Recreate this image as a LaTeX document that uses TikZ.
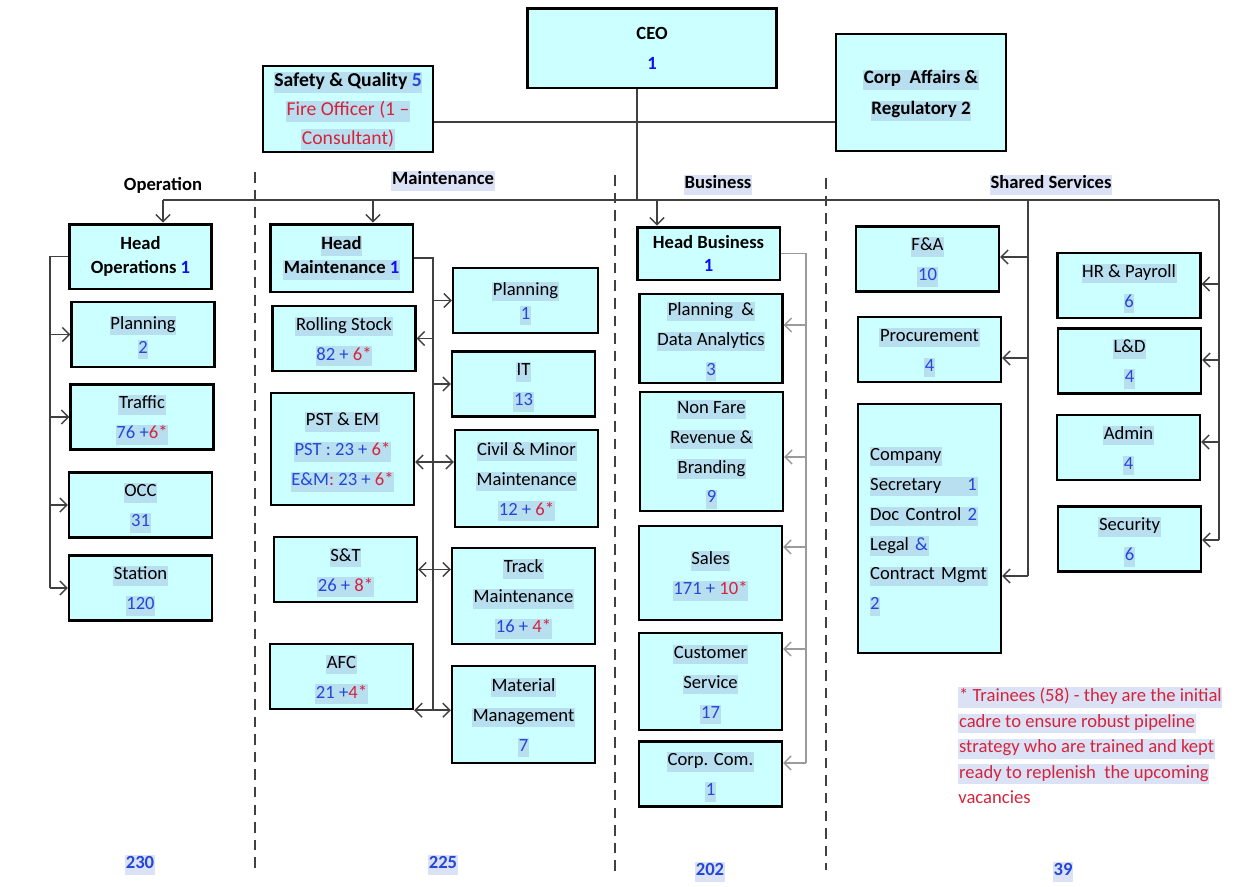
\documentclass[tikz,border=0pt]{standalone}
\usepackage{fontspec}
\setmainfont{Carlito}
\usepackage{xcolor}
\usepackage{tikz}
\usetikzlibrary{arrows.meta}
\definecolor{boxcyan}{HTML}{CCFFFF}
\definecolor{hlcyan}{HTML}{B8DFF0}
\definecolor{hlpage}{HTML}{DCE2F5}
\definecolor{numblue}{HTML}{2447D8}
\definecolor{headblue}{HTML}{1010F0}
\definecolor{numred}{HTML}{D3243C}
\definecolor{linegray}{HTML}{404040}
\definecolor{lightline}{HTML}{9A9A9A}
\newcommand{\hlb}[1]{{\setlength{\fboxsep}{0.4pt}\colorbox{hlcyan}{\rule[-3pt]{0pt}{10.2pt}#1}}}
\newcommand{\hlw}[1]{{\setlength{\fboxsep}{0.4pt}\colorbox{hlpage}{\rule[-3pt]{0pt}{10.2pt}#1}}}
\newcommand{\hlt}[1]{\rule{0pt}{11pt}\hlb{#1}}
\newcommand{\numb}[1]{\textcolor{numblue}{#1}}
\newcommand{\numr}[1]{\textcolor{numred}{#1}}

\begin{document}
\begin{tikzpicture}[x=0.02cm,y=-0.02cm,
  unit/.style={draw,line width=1.3pt,fill=boxcyan,align=center,inner sep=1pt,
               minimum width=2.86cm,minimum height=1.3cm,
               font=\fontsize{10.6}{17}\selectfont},
  tight/.style={font=\fontsize{10.6}{13.6}\selectfont},
  head/.style={unit,line width=1.7pt,font=\bfseries\fontsize{10.6}{13.6}\selectfont},
  link/.style={draw=linegray,line width=0.8pt},
  divider/.style={draw=linegray,line width=0.8pt,dash pattern=on 6pt off 4pt},
  sect/.style={font=\bfseries\fontsize{10.6}{12}\selectfont},
  total/.style={font=\bfseries\fontsize{10.6}{12}\selectfont,text=numblue},
  >={Straight Barb[length=4pt,width=8pt]},
]
  \useasboundingbox (0,0) rectangle (1256,886);

  \node[head,minimum width=5cm,minimum height=1.6cm,
        font=\bfseries\fontsize{10.6}{17}\selectfont] (ceo) at (652,48) {CEO\\\textcolor{headblue}{1}};
  \node[unit,minimum width=3.4cm,minimum height=1.72cm,font=\fontsize{11.2}{16.4}\selectfont]
       (safety) at (348,109) {\hlt{\textbf{Safety \& Quality \numb{5}}}\\\hlb{\numr{Fire Officer (1 –}}\\\hlb{\numr{Consultant)}}};
  \node[unit,minimum width=3.4cm,minimum height=2.34cm,
        font=\bfseries\fontsize{10.8}{17.5}\selectfont] (corp) at (921,92.5) {\hlt{Corp\ \ Affairs \&}\\\hlb{Regulatory 2}};

  \node[sect] (lblops) at (163,185) {Operation};
  \node[sect] (lblmnt) at (443,181) {\hlw{Maintenance}};
  \node[sect] (lblbus) at (718,185) {\hlw{Business}};
  \node[sect] (lblss) at (1051,185) {\hlw{Shared Services}};

  \draw[divider] (255,172) -- (255,868);
  \draw[divider] (615,175) -- (615,875);
  \draw[divider] (826,178) -- (826,870);

  \node[head] (hops) at (140.5,256.5) {Head\\Operations \textcolor{headblue}{1}};
  \node[unit,tight] (oplan) at (143,334.5) {\hlt{Planning}\\\hlb{\numb{2}}};
  \node[unit] (traffic) at (142,417) {\hlt{Traffic}\\\hlb{\numb{76 +}\numr{6*}}};
  \node[unit] (occ) at (140.5,505) {\hlt{OCC}\\\hlb{\numb{31}}};
  \node[unit] (station) at (140.5,588) {\hlt{Station}\\\hlb{\numb{120}}};

  \node[head,minimum height=1.36cm] (hmaint) at (341.5,258) {\hlb{Head}\\\hlb{Maintenance \textcolor{headblue}{1}}};
  \node[unit] (rstock) at (344,338.5) {\hlt{Rolling Stock}\\\hlb{\numb{82 +} \numr{6*}}};
  \node[unit,minimum height=2.24cm] (pstem) at (342.5,449) {\hlt{PST \& EM}\\\hlb{\numb{PST : 23 +} \numr{6*}}\\\hlb{\numb{E\&M}\numr{:} \numb{23 +} \numr{6*}}};
  \node[unit] (snt) at (345.5,569.5) {\hlt{S\&T}\\\hlb{\numb{26 +} \numr{8*}}};
  \node[unit] (afc) at (341.5,676.5) {\hlt{AFC}\\\hlb{\numb{21 +}\numr{4*}}};

  \node[unit,tight,minimum width=2.9cm] (mplan) at (525.5,300.5) {\hlt{Planning}\\\hlb{\numb{1}}};
  \node[unit] (it) at (523.5,384) {\hlt{IT}\\\hlb{\numb{13}}};
  \node[unit,minimum height=1.94cm] (civil) at (526.5,478.5) {\hlt{Civil \& Minor}\\\hlb{Maintenance}\\\hlb{\numb{12 +} \numr{6*}}};
  \node[unit,minimum height=1.92cm] (track) at (523.5,596) {\hlt{Track}\\\hlb{Maintenance}\\\hlb{\numb{16 +} \numr{4*}}};
  \node[unit,minimum height=1.94cm] (material) at (523.5,714.5) {\hlt{Material}\\\hlb{Management}\\\hlb{\numb{7}}};

  \node[head,minimum height=1.06cm] (hbus) at (708.5,253.5) {Head Business\\\textcolor{headblue}{1}};
  \node[unit,minimum height=1.74cm] (pda) at (711,338.5) {\hlt{Planning\ \ \&}\\\hlb{Data Analytics}\\\hlb{\numb{3}}};
  \node[unit,minimum height=2.14cm] (nfr) at (711.5,451.5) {\hlt{Non Fare}\\\hlb{Revenue \&}\\\hlb{Branding}\\\hlb{\numb{9}}};
  \node[unit,minimum height=1.88cm] (sales) at (710.5,573) {\hlt{Sales}\\\hlb{\numb{171 +} \numr{10*}}};
  \node[unit,minimum height=1.94cm] (custsvc) at (710.5,681.5) {\hlt{Customer}\\\hlb{Service}\\\hlb{\numb{17}}};
  \node[unit] (corpcom) at (710.5,774) {\hlt{Corp. Com.}\\\hlb{\numb{1}}};

  \node[unit] (fna) at (927.5,259) {\hlt{F\&A}\\\hlb{\numb{10}}};
  \node[unit] (procure) at (929.5,349.5) {\hlt{Procurement}\\\hlb{\numb{4}}};
  \node[unit,minimum height=4.98cm,align=left,text width=2.4cm] (compsec) at (929.5,528.5)
       {\hlt{Company}\\\hlb{Secretary\hspace{1.4em}\numb{1}}\\\hlb{Doc Control \numb{2}}\\\hlb{Legal \numb{\&}}\\\hlb{Contract Mgmt}\\\hlb{\numb{2}}};
  \node[unit] (hrpay) at (1129,285.5) {\hlt{HR \& Payroll}\\\hlb{\numb{6}}};
  \node[unit] (lnd) at (1129.5,361) {\hlt{L\&D}\\\hlb{\numb{4}}};
  \node[unit] (admin) at (1128.5,447.5) {\hlt{Admin}\\\hlb{\numb{4}}};
  \node[unit] (security) at (1129.5,539) {\hlt{Security}\\\hlb{\numb{6}}};

  \node[anchor=north west,align=left,inner sep=0pt,text=numred,
        font=\fontsize{10.6}{14.5}\selectfont] (note) at (958,687)
       {\hlw{* Trainees (58) - they are the initial}\\\hlw{cadre to ensure robust pipeline}\\
        \hlw{strategy who are trained and kept}\\\hlw{ready to replenish\ \ the upcoming}\\vacancies};

  \node[total] (totops) at (140,865) {\hlw{230}};
  \node[total] (totmnt) at (443,865) {\hlw{225}};
  \node[total] (totbus) at (710,872) {\hlw{202}};
  \node[total] (totss) at (1063,872) {\hlw{39}};

  \coordinate (staffj) at (637,122);
  \coordinate (ceoj) at (637,200);
  \coordinate (dops) at (163,200);
  \coordinate (dmnt) at (373,200);
  \coordinate (dbus) at (657,200);
  \coordinate (ssl) at (1028,200);
  \coordinate (ssr) at (1219,200);

  \draw[link] (ceo.south -| ceoj) -- (ceoj);
  \draw[link] (safety.east |- staffj) -- (corp.west |- staffj);
  \draw[link] (dops) -- (ssr);
  \draw[link,->] (dops) -- (dops |- hops.north);
  \draw[link,->] (dmnt) -- (dmnt |- hmaint.north);
  \draw[link,->] (dbus) -- (dbus |- hbus.north);

  \coordinate (opsbar) at (50,588);
  \draw[link] (hops.west) -| (opsbar);
  \foreach \n in {oplan,traffic,occ,station}
    \draw[link,->] (opsbar |- \n.west) -- (\n.west);

  \coordinate (mntbar) at (433,710);
  \draw[link] (hmaint.east) -| (mntbar);
  \foreach \n in {mplan,it}
    \draw[link,->] (mntbar |- \n.west) -- (\n.west);
  \draw[link,->] (mntbar |- rstock.east) -- (rstock.east);
  \draw[link,<->] (pstem.east |- 0,462) -- (civil.west |- 0,462);
  \draw[link,<->] (snt.east) -- (track.west |- snt.east);
  \draw[link,<->] (afc.south east) -- (material.west |- afc.south east);

  \coordinate (busbar) at (806,763);
  \draw[link,draw=lightline] (hbus.east) -| (busbar);
  \foreach \n/\y in {pda/325,nfr/457,sales/547,custsvc/649,corpcom/763}
    \draw[link,draw=lightline,->] (busbar |- 0,\y) -- (\n.east |- 0,\y);

  \coordinate (sslbar) at (1028,576);
  \coordinate (ssrbar) at (1219,540);
  \draw[link] (ssl) -- (sslbar);
  \draw[link] (ssr) -- (ssrbar);
  \foreach \n/\y in {fna/257,procure/358,compsec/576}
    \draw[link,->] (ssl |- 0,\y) -- (\n.east |- 0,\y);
  \foreach \n/\y in {hrpay/284,lnd/360,admin/442,security/540}
    \draw[link,->] (ssr |- 0,\y) -- (\n.east |- 0,\y);
\end{tikzpicture}
\end{document}
